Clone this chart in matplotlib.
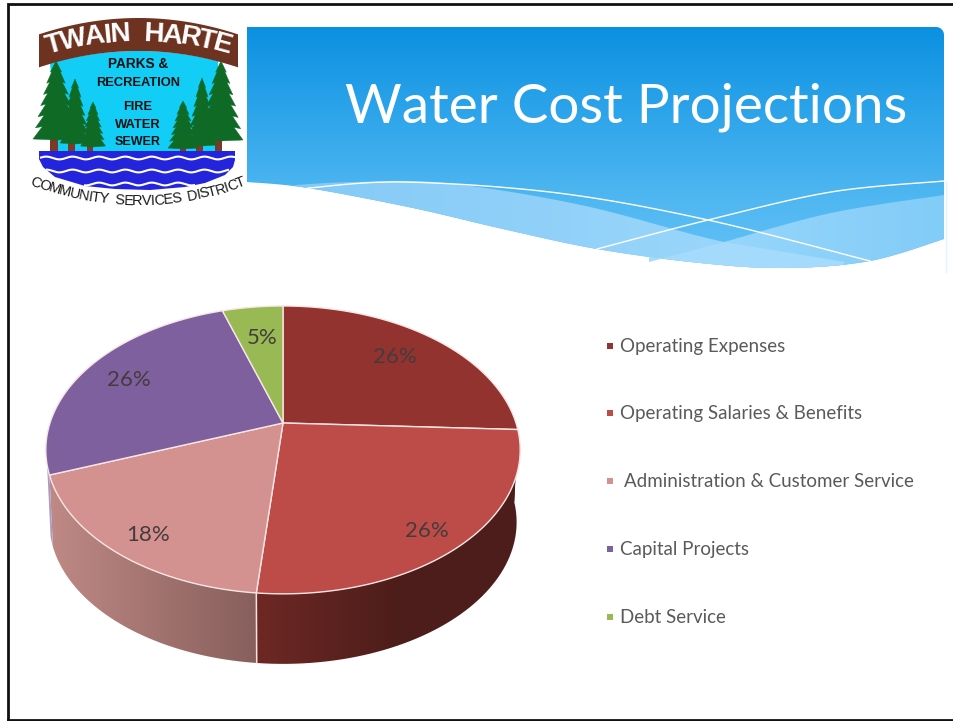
import numpy as np
import matplotlib
matplotlib.use("Agg")
import matplotlib.pyplot as plt
from matplotlib.colors import LinearSegmentedColormap, to_rgb
from matplotlib.patches import Polygon, Rectangle

# ---- data ----
categories = ["Operating Expenses", "Operating Salaries & Benefits",
              " Administration & Customer Service", "Capital Projects", "Debt Service"]
values = [26, 26, 18, 26, 5]
top_colors = ["#93332F", "#BD4C48", "#D39290", "#7E609F", "#99B955"]
side_near = ["#4C1D1A", "#6E2824", "#875F5C", "#A99AC6", "#99B955"]
side_far = ["#4C1D1A", "#4C1D1A", "#BE8884", "#A99AC6", "#99B955"]
title = "Water Cost Projections"

fig = plt.figure(figsize=(9.54, 7.21), dpi=100)
ax = fig.add_axes([0, 0, 1, 1])
ax.set_axis_off()
renderer = fig.canvas.get_renderer()


def fit(txt, target):
    """Scale a text so that it spans target pixels."""
    w = txt.get_window_extent(renderer).width
    txt.set_fontsize(txt.get_fontsize() * target / w)


def smooth(pts, n=24):
    p = np.array([pts[0]] + list(pts) + [pts[-1]], float)
    out = []
    for i in range(1, len(p) - 2):
        for t in np.linspace(0, 1, n, endpoint=False):
            a, b, c, d = p[i - 1], p[i], p[i + 1], p[i + 2]
            out.append(0.5 * (2 * b + (c - a) * t + (2 * a - 5 * b + 4 * c - d) * t ** 2
                              + (3 * b - a - 3 * c + d) * t ** 3))
    out.append(p[-2])
    return np.array(out)


def clipped_image(data, extent, pts, z, **kw):
    im = ax.imshow(data, extent=extent, aspect="auto", zorder=z, **kw)
    pg = Polygon(pts, closed=True, transform=ax.transData, fc="none", ec="none")
    ax.add_patch(pg)
    im.set_clip_path(pg)
    return im


# ---- header ----
lower = smooth([(247, 182), (308, 188), (413, 208), (503, 229), (597, 249), (700, 263),
                (785, 268), (870, 261), (944, 239)])
rev = lower[::-1]
arc = np.radians(np.linspace(0, 90, 12))
corner = np.c_[936 + 8 * np.sin(arc), 35 - 8 * np.cos(arc)]
head_pts = np.vstack([[(247, 27)], corner, rev])
cmap = LinearSegmentedColormap.from_list("h", ["#0B90E0", "#2BA3EA", "#4BB5F0", "#66C2F8"])
clipped_image(np.linspace(0, 1, 256)[:, None], (240, 950, 268, 27), head_pts, 1, cmap=cmap)

band_a = np.vstack([smooth([(295, 185), (354, 182), (445, 183), (581, 205), (724, 242), (845, 262)]),
                    rev[rev[:, 0] < 845]])
cmap_a = LinearSegmentedColormap.from_list("a", ["#84CAF7", "#A0D9FB"])
clipped_image(np.linspace(0, 1, 256)[None, :], (295, 845, 270, 180), band_a, 2, cmap=cmap_a)
band_b = np.vstack([smooth([(724, 242), (831, 213), (944, 195)]), rev[rev[:, 0] > 724]])
cmap_b = LinearSegmentedColormap.from_list("b", ["#96D6FB", "#82CCF8"])
clipped_image(np.linspace(0, 1, 256)[None, :], (724, 944, 270, 190), band_b, 2, cmap=cmap_b)
overlap = np.vstack([[(649, 262)], smooth([(724, 242), (845, 262)], n=2),
                     rev[(rev[:, 0] > 649) & (rev[:, 0] < 845)]])
ax.add_patch(Polygon(overlap, closed=True, fc="#A4DAFB", ec="none", zorder=2.5))
l1 = smooth([(308, 188), (404, 182), (558, 193), (708, 220), (870, 261)])
l2 = smooth([(597, 249), (708, 220), (831, 192), (944, 181)])
ax.plot(l1[:, 0], l1[:, 1], color="white", lw=1.0, zorder=3)
ax.plot(l2[:, 0], l2[:, 1], color="white", lw=1.0, zorder=3)
ax.plot([946, 946], [181, 272], color="#E4F4FE", lw=1, zorder=3)

t = ax.text(345, 122, title, color="white", family="Lato", fontsize=45,
            va="baseline", ha="left", zorder=4)
fit(t, 563)

# ---- frame ----
ax.plot([8.5, 8.5, 954], [721, 3.5, 3.5], color="#111111", lw=2.0, zorder=5, solid_joinstyle="miter")
ax.plot([8, 954], [719.5, 719.5], color="#111111", lw=2.0, zorder=5)

# ---- pie with a perspective tilt ----
CX, CY, A, B, K = 283.0, 423.0, 138.9, 233.0, 0.187
DEPTH, BASE = 72.6, 0.985


def project(theta, r=1.0, s=1.0, dy=0.0):
    x, y = r * np.sin(theta), r * np.cos(theta)
    d = 1 + K * y
    return CX + s * B * x / d, CY + dy - s * A * y / d


shares = np.asarray(values, float)
edges = 2 * np.pi * np.r_[0, np.cumsum(shares)] / shares.sum()
seam_x = project(edges[2])[0]
spans = [1, 145, 202, 1, 1]

# side wall
lo, hi = np.radians(60), edges[3] + np.radians(4)
grid = np.linspace(40, 530, 490)
for i in range(len(values)):
    a, b = max(edges[i], lo), min(edges[i + 1], hi)
    if a >= b:
        continue
    th = np.linspace(a, b, 60)
    xt, yt = project(th)
    xb, yb = project(th, s=BASE, dy=DEPTH)
    f = np.clip(np.abs(grid - seam_x) / spans[i], 0, 1)[None, :, None]
    near, far = np.array(to_rgb(side_near[i])), np.array(to_rgb(side_far[i]))
    rgb = near + (far - near) * f
    clipped_image(rgb, (40, 530, 700, 400), np.vstack([np.c_[xt, yt], np.c_[xb, yb][::-1]]), 6)

# top face
for i in range(len(values)):
    th = np.linspace(edges[i], edges[i + 1], 80)
    px, py = project(th)
    ax.add_patch(Polygon(np.vstack([[(CX, CY)], np.c_[px, py]]), closed=True,
                         fc=top_colors[i], ec="#F7E6E4", lw=1.0, zorder=7, joinstyle="round"))

# seam on the front wall
sx0, sy0 = project(edges[2])
sx1, sy1 = project(edges[2], s=BASE, dy=DEPTH)
ax.plot([sx0, sx1], [sy0, sy1], color="#F5E4E2", lw=1.1, zorder=7)

# percent labels
label_xy = [(395, 357), (427, 531), (148, 535), (129, 380), (262, 338)]
for v, (x, y) in zip(values, label_xy):
    ax.text(x, y, f"{v}%", ha="center", va="center", color="#443C3C", family="Lato",
            fontsize=16, zorder=8)

# ---- legend ----
legend_y = [346, 413, 481, 549, 617]
texts = []
for name, col, y in zip(categories, top_colors, legend_y):
    ax.add_patch(Rectangle((607, y - 3), 6, 6, fc=col, ec="none", zorder=8))
    x = 620 if not name.startswith(" ") else 624.5
    texts.append(ax.text(x, y + 0.5, name.strip(), va="center", ha="left", color="#5A5A5A",
                         family="Lato", fontsize=17.5, zorder=8))
fit(texts[2], 290)
for other in texts:
    other.set_fontsize(texts[2].get_fontsize())

# ---- logo ----
BROWN, CYAN, GREEN, TRUNK, WATER = "#6E3220", "#12CDF5", "#0F6A26", "#7B3A24", "#2424DC"
LOGO_FONT = "Liberation Sans"
R_TOP = 318
xs = np.linspace(39, 238, 60)
outer = np.c_[xs, 18 + (xs - 138.5) ** 2 / (2 * R_TOP) * 1.05]
inner = np.c_[xs, 51 + (xs - 138.5) ** 2 / (2 * R_TOP) * 1.05]
ys = np.linspace(50, 218, 40)
cy_top = np.c_[ys, 51 + (ys - 138.5) ** 2 / (2 * R_TOP)]
ax.add_patch(Polygon(np.vstack([cy_top, [(218, 151), (58, 151)]]), closed=True, fc=CYAN, ec="none", zorder=8))
ax.add_patch(Polygon(np.vstack([outer, inner[::-1]]), closed=True, fc=BROWN, ec="none", zorder=9))


def tree(cx, top, base, half):
    tiers = 7
    left, right = [], []
    for j in range(1, tiers + 1):
        f = j / tiers
        wide = half * (f ** 0.72)
        y = top + (base - top) * f
        neck = wide * 0.66
        left += [(cx - wide, y), (cx - neck, y - (base - top) / tiers * 0.12)]
        right += [(cx + wide, y), (cx + neck, y - (base - top) / tiers * 0.12)]
    pts = [(cx, top)] + right[:-1] + [(cx, base + 1)] + left[:-1][::-1]
    ax.add_patch(Polygon(pts, closed=True, fc=GREEN, ec=GREEN, lw=0.3, zorder=10))


trunks = [(54.5, 138, 4), (72, 143, 3.5), (90.5, 145, 3), (183, 147, 3), (200, 145, 3.5), (219, 140, 3.5)]
for x, y, hw in trunks:
    ax.add_patch(Rectangle((x - hw, y), 2 * hw, 152 - y, fc=TRUNK, ec="none", zorder=9.5))
tree(56, 61, 139, 23)
tree(75, 79, 143, 15)
tree(93, 102, 146, 12.5)
tree(183, 101, 148, 15)
tree(202, 78, 145, 15)
tree(221, 61, 140, 22)

water = np.array([(39, 151), (235, 151), (235, 160), (233, 167), (225, 175), (205, 183), (185, 187),
                  (150, 190), (115, 189), (85, 186), (55, 177), (43, 167), (39, 159)])
ax.add_patch(Polygon(water, closed=True, fc=WATER, ec="none", zorder=10))
for y0, x0, x1 in [(158, 41, 234), (171, 47, 228), (184, 85, 194)]:
    wx = np.linspace(x0, x1, 200)
    ax.plot(wx, y0 + 1.4 * np.sin(wx / 4.2), color="white", lw=1.5, zorder=11)

for txt, y, w in [("PARKS &", 64, 60), ("RECREATION", 83, 84), ("FIRE", 107, 29),
                  ("WATER", 125, 46), ("SEWER", 142, 46)]:
    tt = ax.text(138, y, txt, ha="center", va="center", weight="bold", color="#111111",
                 family=LOGO_FONT, fontsize=10, zorder=12)
    fit(tt, w)


def arc_text(word, cx, cy, radius, length, sign, grow, **kw):
    """Lay letters along an arc, spaced by their own widths, to fill length pixels."""
    probes = [ax.text(0, 0, c if c != " " else "n", family=LOGO_FONT, fontsize=12, **kw) for c in word]
    widths = np.array([p.get_window_extent(renderer).width for p in probes])
    for p in probes:
        p.remove()
    scale = length / widths.sum()
    widths = widths * scale
    centers = np.cumsum(widths) - widths / 2 - length / 2
    for ch, s in zip(word, centers):
        ang = s / radius
        x = cx + radius * np.sin(ang)
        y = cy - sign * radius * np.cos(ang)
        ax.text(x, y, ch, ha="center", va="center", rotation=-sign * np.degrees(ang),
                rotation_mode="anchor", family=LOGO_FONT, fontsize=12 * scale * grow, zorder=12, **kw)


arc_text("TWAIN HARTE", 138.5, 34 + R_TOP, R_TOP, 186, 1, 1.1, color="white", weight="bold")
arc_text("COMMUNITY SERVICES DISTRICT", 138, -96, 297, 218, -1, 1.12, color="#1A1A1A")

ax.set_xlim(0, 954)
ax.set_ylim(721, 0)
fig.savefig("out.png", dpi=100, facecolor="white")
